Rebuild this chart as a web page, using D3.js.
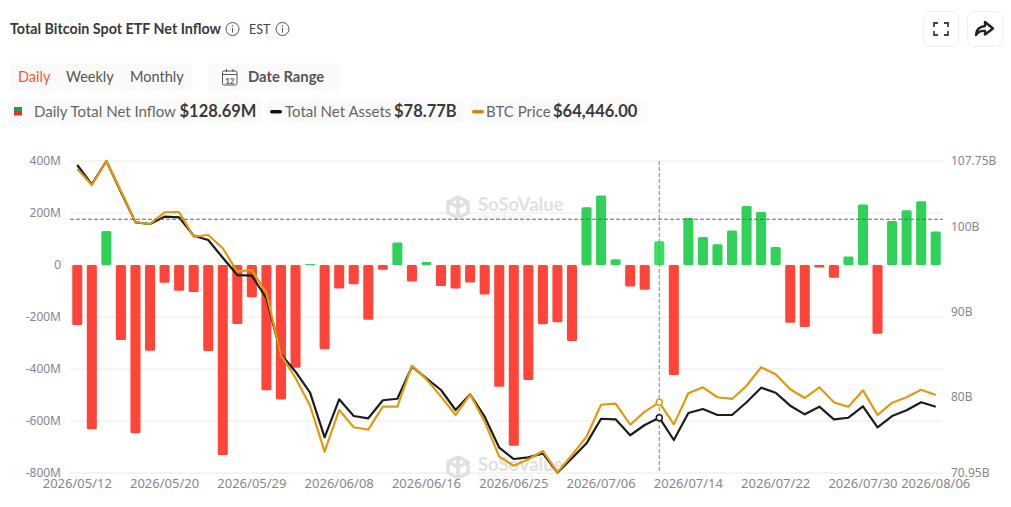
<!DOCTYPE html>
<html>
<head>
<meta charset="utf-8">
<title>Total Bitcoin Spot ETF Net Inflow</title>
<script src="https://cdn.jsdelivr.net/npm/d3@7"></script>
<style>
  html, body { margin: 0; padding: 0; background: #fff; }
  svg { display: block; font-family: Lato, sans-serif; }
  .tick text { font-family: "Noto Sans", sans-serif; font-size: 12px; fill: #86868b; }
  .x-axis .tick text { font-size: 13px; }
</style>
</head>
<body>
<svg id="chart" width="1011" height="507"></svg>
<script>
"use strict";

const dates = [
  "2026/05/12","2026/05/13","2026/05/14","2026/05/15","2026/05/18","2026/05/19","2026/05/20","2026/05/21","2026/05/22","2026/05/26",
  "2026/05/27","2026/05/28","2026/05/29","2026/06/01","2026/06/02","2026/06/03","2026/06/04","2026/06/05","2026/06/08","2026/06/09",
  "2026/06/10","2026/06/11","2026/06/12","2026/06/15","2026/06/16","2026/06/17","2026/06/18","2026/06/22","2026/06/23","2026/06/24",
  "2026/06/25","2026/06/26","2026/06/29","2026/06/30","2026/07/01","2026/07/02","2026/07/06","2026/07/07","2026/07/08","2026/07/09",
  "2026/07/10","2026/07/13","2026/07/14","2026/07/15","2026/07/16","2026/07/17","2026/07/20","2026/07/21","2026/07/22","2026/07/23",
  "2026/07/24","2026/07/27","2026/07/28","2026/07/29","2026/07/30","2026/07/31","2026/08/03","2026/08/04","2026/08/05","2026/08/06"
];
// daily net inflow, $M
const netInflow = [
  -231,-632,131,-288,-647,-330,-68,-99,-104,-331,
  -731,-227,-124,-482,-517,-395,4,-324,-90,-74,
  -211,-18,87,-63,12,-81,-90,-67,-113,-468,
  -695,-442,-228,-220,-292,222,267,22,-83,-95,
  91,-423,181,108,80,133,227,204,69,-222,
  -238,-10,-49,33,233,-264,169,211,245,128.69
];
// total net assets, $B
const netAssets = [
  107.28,105.00,107.75,104.09,100.52,100.32,101.18,101.11,98.94,98.43,
  96.34,94.30,94.22,91.56,84.95,82.90,80.42,75.16,79.64,77.67,
  77.40,79.53,79.71,83.49,82.12,80.74,78.38,80.23,77.59,73.93,
  72.60,72.80,73.27,70.99,72.68,74.45,77.35,77.28,75.40,76.61,
  77.47,74.84,78.03,78.50,77.79,77.79,79.29,81.01,80.42,78.89,
  77.87,78.77,77.28,77.47,78.82,76.34,77.67,78.35,79.29,78.77
];
// BTC price, $
const btcPrice = [
  83120,81800,83784,81300,78720,78580,79540,79570,77530,77670,
  76570,74640,74780,72850,67750,65850,63560,59760,63210,61780,
  61580,63480,63480,66870,65740,64310,62790,64500,62240,59350,
  58600,59130,59820,58060,59490,61000,63640,63730,61990,63070,
  63840,62020,64590,65080,64260,64120,65210,66740,66160,64920,
  64200,65080,63840,63480,64830,62790,63810,64260,64880,64446
];
const xTickDates = ["2026/05/12","2026/05/20","2026/05/29","2026/06/08","2026/06/16","2026/06/25","2026/07/06","2026/07/14","2026/07/22","2026/07/30","2026/08/06"];
const leftTicks = [400,200,0,-200,-400,-600,-800];
const rightTicks = [107.75,100,90,80,70.95];
const hoverDate = "2026/07/10";
const hoverInflow = 176;

const svg = d3.select("#chart");
const plotLeft = 70, plotRight = 943, plotTop = 161, plotBottom = 473;

const x = d3.scaleBand().domain(dates).range([plotLeft, plotRight]).paddingInner(0.31).paddingOuter(0.155);
const cx = d => x(d) + x.bandwidth() / 2;
const yFlow = d3.scaleLinear().domain([-800, 400]).range([plotBottom, plotTop]);
const yAssets = d3.scaleLinear().domain([70.95, 107.75]).range([plotBottom, plotTop]);
const yPrice = d3.scaleLinear().domain([58000, 83784]).range([plotBottom, plotTop]);

// header
svg.append("text").attr("x", 10).attr("y", 34).attr("font-size", 14.3).attr("font-weight", 700).attr("fill", "#3a3a3a")
  .text("Total Bitcoin Spot ETF Net Inflow");
svg.append("text").attr("x", 249).attr("y", 34).attr("font-size", 12.5).attr("fill", "#444").text("EST");

function infoIcon(px, py) {
  const g = svg.append("g").attr("transform", `translate(${px},${py})`);
  g.append("circle").attr("r", 6.5).attr("fill", "none").attr("stroke", "#555").attr("stroke-width", 1);
  g.append("line").attr("y1", -1).attr("y2", 3.5).attr("stroke", "#555");
  g.append("circle").attr("cy", -3).attr("r", 0.8).attr("fill", "#555");
}
infoIcon(232.5, 29);
infoIcon(282.5, 29);

function toolButton(px) {
  svg.append("rect").attr("x", px + 0.5).attr("y", 11.5).attr("width", 35).attr("height", 35).attr("rx", 7)
    .attr("fill", "#fff").attr("stroke", "#eee");
}
toolButton(923);
toolButton(967);
svg.append("path").attr("fill", "none").attr("stroke", "#444").attr("stroke-width", 1.8)
  .attr("d", "M934 27V23H938M944 23H948V27M948 31V35H944M938 35H934V31");
svg.append("path").attr("fill", "none").attr("stroke", "#222").attr("stroke-width", 2.4).attr("stroke-linejoin", "round")
  .attr("d", "M985 22L993 28.5L985 34.5V31C981 30.5 978 32 976 35C976.5 29.500 980 26.500 985 26Z");

// period buttons
svg.append("rect").attr("x", 10).attr("y", 63).attr("width", 182).attr("height", 28).attr("rx", 4).attr("fill", "#fafafa");
svg.append("rect").attr("x", 208).attr("y", 63).attr("width", 132).attr("height", 28).attr("rx", 4).attr("fill", "#fafafa");
[["Daily", 18, "#ff5630"], ["Weekly", 66, "#555"], ["Monthly", 130, "#555"]].forEach(b => {
  svg.append("text").attr("x", b[1]).attr("y", 82).attr("font-size", 14.5).attr("fill", b[2]).text(b[0]);
});
svg.append("text").attr("x", 248).attr("y", 82).attr("font-size", 14.8).attr("font-weight", 700).attr("fill", "#555").text("Date Range");
svg.append("rect").attr("x", 222.5).attr("y", 71).attr("width", 14.5).attr("height", 14).attr("rx", 1.5).attr("fill", "none").attr("stroke", "#555");
svg.append("path").attr("stroke", "#555").attr("d", "M222.500 74.500H237M226.500 69V72M233 69V72");
svg.append("text").attr("x", 229.800).attr("y", 83.500).attr("text-anchor", "middle").attr("font-size", 8).attr("font-weight", 700).attr("fill", "#555").text("12");

// legend
[[10, 252], [267, 197], [468, 179]].forEach(r => {
  svg.append("rect").attr("x", r[0]).attr("y", 99).attr("width", r[1]).attr("height", 24).attr("rx", 4).attr("fill", "#fafafa");
});
svg.append("rect").attr("x", 14).attr("y", 107).attr("width", 8).attr("height", 4).attr("fill", "#1f9d55");
svg.append("rect").attr("x", 14).attr("y", 111).attr("width", 8).attr("height", 4.500).attr("fill", "#e5352b");
svg.append("rect").attr("x", 270).attr("y", 110).attr("width", 12).attr("height", 3.500).attr("rx", 1.7).attr("fill", "#111");
svg.append("rect").attr("x", 472).attr("y", 110).attr("width", 12).attr("height", 3.500).attr("rx", 1.7).attr("fill", "#c98a0c");
[["Daily Total Net Inflow", 34, "$128.69M", 179.500], ["Total Net Assets", 285, "$78.77B", 394], ["BTC Price", 486, "$64,446.00", 553]].forEach(l => {
  svg.append("text").attr("x", l[1]).attr("y", 117).attr("font-size", 15).attr("fill", "#666").text(l[0]);
  svg.append("text").attr("x", l[3]).attr("y", 117).attr("font-size", 16.5).attr("font-weight", 700).attr("fill", "#3a3a3a").text(l[2]);
});

// watermarks
function watermark(py) {
  const g = svg.append("g").attr("transform", `translate(458,${py})`);
  g.append("path").attr("fill", "none").attr("stroke", "#e0e0e0").attr("stroke-width", 3.5).attr("stroke-linejoin", "round")
    .attr("d", "M0 -10L10 -5V6L0 11L-10 6V-5ZM0 -10V0M-10 -5L0 0L10 -5M0 0V11");
  g.append("text").attr("x", 20).attr("y", 4).attr("font-size", 18.500).attr("font-weight", 700).attr("fill", "#e0e0e0").text("SoSoValue");
  g.append("text").attr("x", 20).attr("y", 13).attr("font-size", 8.500).attr("fill", "#ececec").text("sosovalue.com");
}

// grid
svg.append("g").selectAll("line").data(leftTicks).join("line")
  .attr("x1", plotLeft).attr("x2", plotRight).attr("y1", d => yFlow(d)).attr("y2", d => yFlow(d))
  .attr("stroke", "#e9e9e9");

watermark(207);
watermark(467);

// axes
const fmtFlow = d => d === 0 ? "0" : d + "M";
svg.append("g").attr("transform", `translate(${plotLeft},0)`)
  .call(d3.axisLeft(yFlow).tickValues(leftTicks).tickFormat(fmtFlow).tickSize(0).tickPadding(9))
  .call(g => g.select(".domain").remove());
svg.append("g").attr("transform", `translate(${plotRight},0)`)
  .call(d3.axisRight(yAssets).tickValues(rightTicks).tickFormat(d => d + "B").tickSize(0).tickPadding(8))
  .call(g => g.select(".domain").remove());
svg.append("g").attr("class", "x-axis").attr("transform", `translate(0,${plotBottom})`)
  .call(d3.axisBottom(x).tickValues(xTickDates).tickSize(0).tickPadding(6))
  .call(g => g.select(".domain").remove());

// bars
svg.append("g").selectAll("rect").data(dates).join("rect")
  .attr("x", d => x(d))
  .attr("width", x.bandwidth())
  .attr("y", (d, i) => yFlow(Math.max(netInflow[i], 0)))
  .attr("height", (d, i) => Math.abs(yFlow(netInflow[i]) - yFlow(0)))
  .attr("rx", 1.5)
  .attr("fill", (d, i) => d === hoverDate ? "#38e060" : netInflow[i] >= 0 ? "#30d158" : "#ff453a");

// lines
const line = y => d3.line().x((d, i) => cx(dates[i])).y(d => y(d));
svg.append("path").datum(netAssets).attr("d", line(yAssets)).attr("fill", "none").attr("stroke", "#1c1c1e").attr("stroke-width", 2.2).attr("stroke-linejoin", "round");
svg.append("path").datum(btcPrice).attr("d", line(yPrice)).attr("fill", "none").attr("stroke", "#e09a10").attr("stroke-width", 2.2).attr("stroke-linejoin", "round");

// crosshair
const hoverIndex = dates.indexOf(hoverDate);
svg.append("line").attr("x1", plotLeft).attr("x2", plotRight).attr("y1", yFlow(hoverInflow)).attr("y2", yFlow(hoverInflow))
  .attr("stroke", "#666").attr("stroke-dasharray", "4 2");
svg.append("line").attr("x1", cx(hoverDate)).attr("x2", cx(hoverDate)).attr("y1", plotTop).attr("y2", plotBottom)
  .attr("stroke", "#888").attr("stroke-dasharray", "4 2");
svg.append("circle").attr("cx", cx(hoverDate)).attr("cy", yAssets(netAssets[hoverIndex])).attr("r", 3)
  .attr("fill", "#fff").attr("stroke", "#1c1c1e").attr("stroke-width", 1.5);
svg.append("circle").attr("cx", cx(hoverDate)).attr("cy", yPrice(btcPrice[hoverIndex])).attr("r", 3)
  .attr("fill", "#fff").attr("stroke", "#e09a10").attr("stroke-width", 1.5);
</script>
</body>
</html>
